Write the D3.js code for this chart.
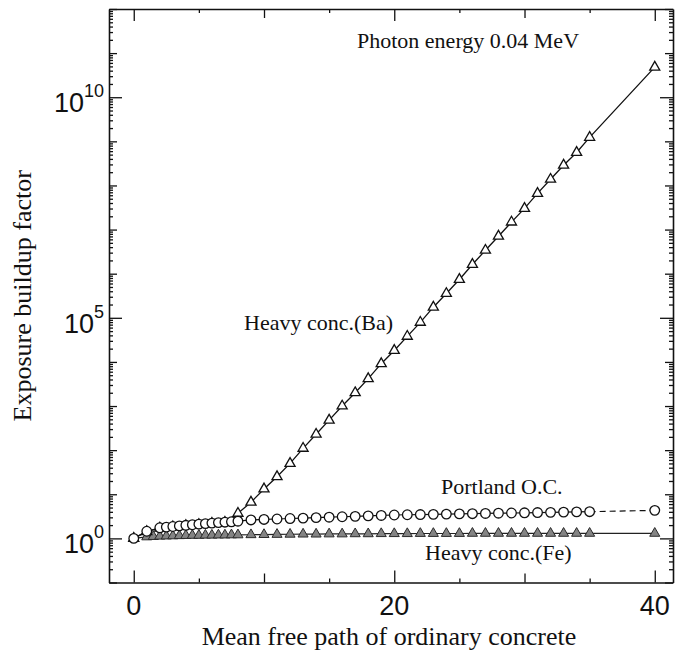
<!DOCTYPE html>
<html><head><meta charset="utf-8">
<script src="https://cdn.jsdelivr.net/npm/d3@7"></script>
<style>body{margin:0;background:#fff}svg{display:block}</style>
</head><body><svg id="c" width="675" height="659"></svg>
<script>
// ---- data ----
const baX = [0,1,2,3,4,5,6,7,8,9,10,11,12,13,14,15,16,17,18,19,20,21,22,23,24,25,26,27,28,29,30,31,32,33,34,35,40];
const baY = [1.00,1.42,1.70,1.82,1.94,2.06,2.18,2.30,3.7,6.6,13.2,25,50,110,229,479,1000,2000,4170,9120,1.82e4,3.8e4,7.9e4,1.74e5,3.55e5,7.4e5,1.62e6,3.39e6,7.08e6,1.48e7,3.02e7,6.6e7,1.38e8,2.88e8,5.6e8,1.23e9,4.8e10];
const portX = [0,1,2,2.5,3,3.5,4,4.5,5,5.5,6,6.5,7,7.5,8,9,10,11,12,13,14,15,16,17,18,19,20,21,22,23,24,25,26,27,28,29,30,31,32,33,34,35,40];
const portY = [1.00,1.45,1.74,1.80,1.86,1.92,1.98,2.04,2.10,2.16,2.22,2.28,2.33,2.38,2.45,2.62,2.69,2.75,2.82,2.88,2.95,3.02,3.09,3.16,3.24,3.31,3.39,3.43,3.47,3.51,3.55,3.59,3.63,3.67,3.72,3.76,3.80,3.85,3.89,3.94,3.98,4.03,4.32];
const feX = [0,1,1.5,2,2.5,3,3.5,4,4.5,5,5.5,6,6.5,7,7.5,8,9,10,11,12,13,14,15,16,17,18,19,20,21,22,23,24,25,26,27,28,29,30,31,32,33,34,35,40];
const feY = [1.00,1.08,1.10,1.12,1.13,1.14,1.15,1.16,1.17,1.17,1.18,1.18,1.19,1.19,1.20,1.20,1.21,1.22,1.23,1.24,1.25,1.25,1.26,1.26,1.27,1.27,1.28,1.28,1.28,1.29,1.29,1.29,1.29,1.30,1.30,1.30,1.30,1.30,1.30,1.30,1.30,1.30,1.30,1.30];
const xMajor = [0,20,40];
const xMedium = [10,30];
const xMinor = [5,15,25,35];
const yLabelled = [1,1e5,1e10];
const yLabelExp = ["0","5","10"];

// ---- layout ----
const L = 109, R = 673, T = 9, B = 582.5;
const svg = d3.select("#c");
const x = d3.scaleLinear().domain([-1.9, 41.4]).range([L, R]);
const y = d3.scaleLog().domain([0.1, 1e12]).range([B, T]);
const serif = "'Liberation Serif','Times New Roman',serif";
const sans = "'Liberation Sans',Arial,sans-serif";

const yDecades = d3.range(-1, 13).map(e => Math.pow(10, e)).filter(v => !yLabelled.includes(v));
const yMinor = [];
d3.range(-1, 12).forEach(e => { for (let m = 2; m <= 9; m++) yMinor.push(m * Math.pow(10, e)); });

function addAxis(axis, tf, keepDomain) {
  const g = svg.append("g").attr("transform", tf).call(axis.tickSizeOuter(0).tickFormat(""));
  g.selectAll("line").attr("stroke", "#111").attr("stroke-width", 1.3);
  g.select(".domain").attr("stroke", keepDomain ? "#111" : "none").attr("stroke-width", 1.6);
  g.selectAll("text").remove();
  return g;
}
// bottom
addAxis(d3.axisBottom(x).tickValues(xMajor).tickSize(-12), `translate(0,${B})`, true);
addAxis(d3.axisBottom(x).tickValues(xMedium).tickSize(-9), `translate(0,${B})`, false);
addAxis(d3.axisBottom(x).tickValues(xMinor).tickSize(-4), `translate(0,${B})`, false);
// top
addAxis(d3.axisTop(x).tickValues(xMajor).tickSize(-12), `translate(0,${T})`, true);
addAxis(d3.axisTop(x).tickValues(xMedium).tickSize(-9), `translate(0,${T})`, false);
addAxis(d3.axisTop(x).tickValues(xMinor).tickSize(-4), `translate(0,${T})`, false);
// left
addAxis(d3.axisLeft(y).tickValues(yLabelled).tickSize(-13), `translate(${L},0)`, true);
addAxis(d3.axisLeft(y).tickValues(yDecades).tickSize(-8), `translate(${L},0)`, false);
addAxis(d3.axisLeft(y).tickValues(yMinor).tickSize(-4), `translate(${L},0)`, false);
// right
addAxis(d3.axisRight(y).tickValues(yLabelled).tickSize(-13), `translate(${R},0)`, true);
addAxis(d3.axisRight(y).tickValues(yDecades).tickSize(-8), `translate(${R},0)`, false);
addAxis(d3.axisRight(y).tickValues(yMinor).tickSize(-4), `translate(${R},0)`, false);

// x tick labels
svg.append("g").selectAll("text").data(xMajor).join("text")
  .attr("x", d => x(d)).attr("y", B + 32).attr("text-anchor", "middle")
  .attr("font-family", sans).attr("font-size", 27).attr("fill", "#111").text(d => d);
// y tick labels
const yl = svg.append("g").selectAll("text").data(yLabelled).join("text")
  .attr("x", L - 5).attr("y", d => y(d) + 15).attr("text-anchor", "end")
  .attr("font-family", sans).attr("font-size", 27).attr("fill", "#111");
yl.append("tspan").text("10");
yl.append("tspan").attr("font-size", 18).attr("dy", -15).text((d, i) => yLabelExp[i]);

// axis titles
svg.append("text").attr("x", 389).attr("y", 645).attr("text-anchor", "middle")
  .attr("font-family", serif).attr("font-size", 26).attr("fill", "#111")
  .text("Mean free path of ordinary concrete");
svg.append("text").attr("transform", `translate(31,${(T + B) / 2}) rotate(-90)`).attr("text-anchor", "middle")
  .attr("font-family", serif).attr("font-size", 26).attr("fill", "#111")
  .text("Exposure buildup factor");

// ---- series ----
const line = d3.line().x(d => x(d[0])).y(d => y(d[1]));
const fe = feX.map((v, i) => [v, feY[i]]);
const ba = baX.map((v, i) => [v, baY[i]]);
const pt = portX.map((v, i) => [v, portY[i]]);
const tri = d3.symbol(d3.symbolTriangle, 44);

// Fe
svg.append("path").attr("d", line(fe)).attr("fill", "none").attr("stroke", "#222").attr("stroke-width", 1.2);
svg.append("g").selectAll("path").data(fe).join("path")
  .attr("transform", d => `translate(${x(d[0])},${y(d[1])})`).attr("d", tri)
  .attr("fill", "#848484").attr("stroke", "#2a2a2a").attr("stroke-width", 1);
// Ba
svg.append("path").attr("d", line(ba)).attr("fill", "none").attr("stroke", "#111").attr("stroke-width", 1.3);
svg.append("g").selectAll("path").data(ba).join("path")
  .attr("transform", d => `translate(${x(d[0])},${y(d[1])})`).attr("d", tri)
  .attr("fill", "#fff").attr("stroke", "#111").attr("stroke-width", 1.3);
// Portland
svg.append("path").attr("d", line(pt.slice(0, pt.length - 1))).attr("fill", "none").attr("stroke", "#111").attr("stroke-width", 1.2);
svg.append("path").attr("d", line(pt.slice(pt.length - 2))).attr("fill", "none").attr("stroke", "#111")
  .attr("stroke-width", 1.2).attr("stroke-dasharray", "6,4");
svg.append("g").selectAll("circle").data(pt).join("circle")
  .attr("cx", d => x(d[0])).attr("cy", d => y(d[1])).attr("r", 4.8)
  .attr("fill", "#fff").attr("stroke", "#111").attr("stroke-width", 1.3);

// annotations
const ann = [
  {t: "Photon energy 0.04 MeV", x: 357, y: 48, s: 22},
  {t: "Heavy conc.(Ba)", x: 244, y: 330, s: 22},
  {t: "Portland O.C.", x: 441, y: 494, s: 22},
  {t: "Heavy conc.(Fe)", x: 425, y: 560, s: 22}
];
svg.append("g").selectAll("text").data(ann).join("text")
  .attr("x", d => d.x).attr("y", d => d.y).attr("font-size", d => d.s)
  .attr("font-family", serif).attr("fill", "#111").text(d => d.t);
</script></body></html>
